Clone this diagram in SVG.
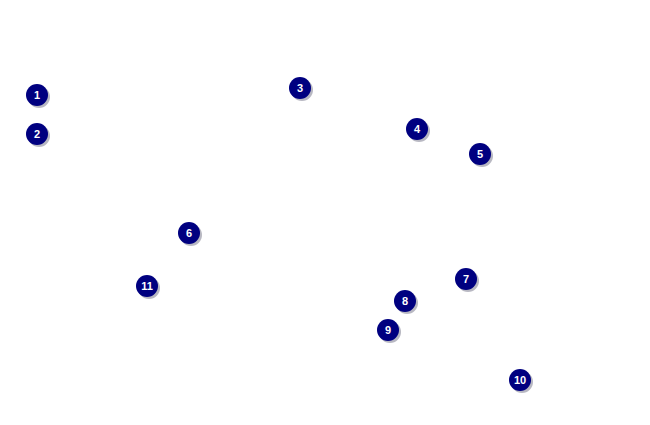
<svg xmlns="http://www.w3.org/2000/svg" width="650" height="425" viewBox="0 0 650 425">
<style>
.sh{fill:#9a9aa8;opacity:0.7}
.c{fill:#000080}
.t{fill:#fff;font-family:"Liberation Sans",Arial,sans-serif;font-weight:bold;font-size:11px;text-anchor:middle}
</style>
<defs>
<g id="m"><circle class="sh" cx="2" cy="2" r="11"/><circle class="c" r="11"/></g>
</defs>
<rect width="650" height="425" fill="#fff"/>
<g id="connectors"/>
<g id="n1" transform="translate(37,95)"><use href="#m"/><text class="t" y="4">1</text></g>
<g id="n2" transform="translate(37,134)"><use href="#m"/><text class="t" y="4">2</text></g>
<g id="n3" transform="translate(300,88)"><use href="#m"/><text class="t" y="4">3</text></g>
<g id="n4" transform="translate(417,129)"><use href="#m"/><text class="t" y="4">4</text></g>
<g id="n5" transform="translate(480,154)"><use href="#m"/><text class="t" y="4">5</text></g>
<g id="n6" transform="translate(189,233)"><use href="#m"/><text class="t" y="4">6</text></g>
<g id="n7" transform="translate(466,279)"><use href="#m"/><text class="t" y="4">7</text></g>
<g id="n8" transform="translate(405,301)"><use href="#m"/><text class="t" y="4">8</text></g>
<g id="n9" transform="translate(388,330)"><use href="#m"/><text class="t" y="4">9</text></g>
<g id="n10" transform="translate(520,380)"><use href="#m"/><text class="t" y="4">10</text></g>
<g id="n11" transform="translate(147,286)"><use href="#m"/><text class="t" y="4">11</text></g>
</svg>
